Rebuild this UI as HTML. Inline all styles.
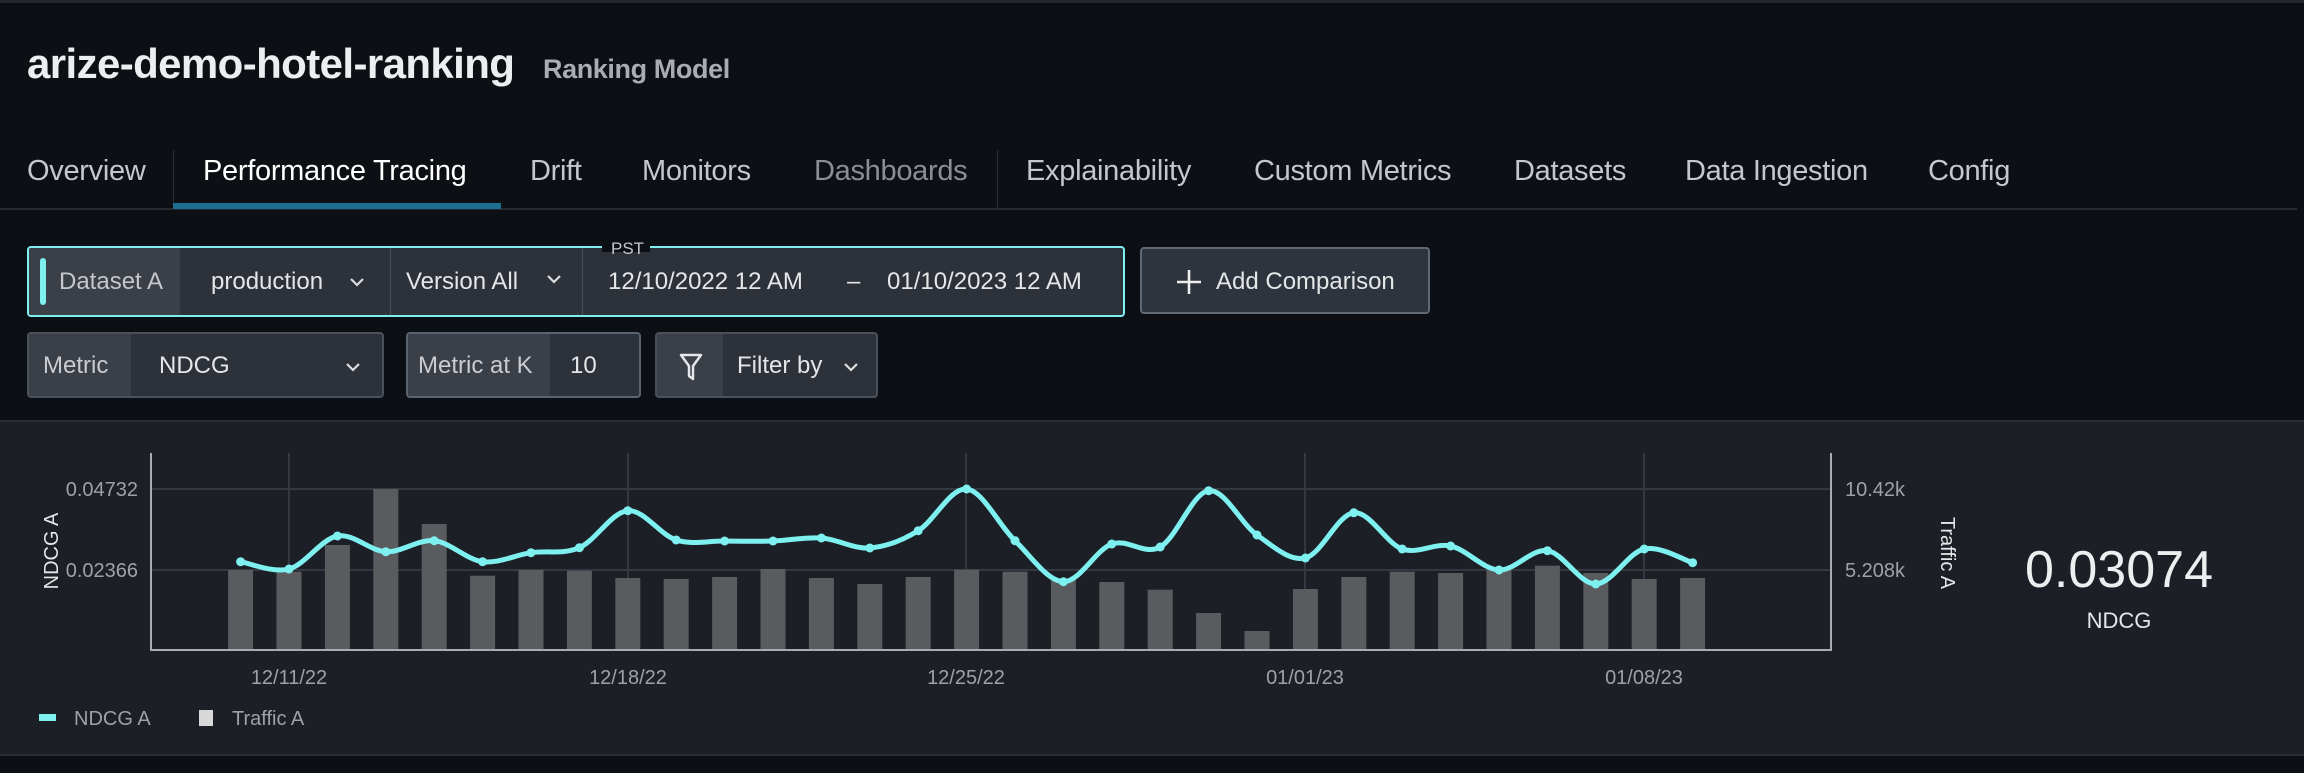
<!DOCTYPE html>
<html><head><meta charset="utf-8"><style>
*{margin:0;padding:0;box-sizing:border-box}
body{width:2304px;height:773px;background:#0c0f13;font-family:"Liberation Sans",sans-serif;position:relative;overflow:hidden;color:#d8dadd}
.a{position:absolute;white-space:nowrap}
.tab{position:absolute;top:155px;font-size:29px;color:#c4c7cc;letter-spacing:-0.3px}
.box{position:absolute;border-radius:4px}
.t24{font-size:24px}
.chev{position:absolute;width:16px;height:10px}
</style></head><body>
<div class="a" style="left:0;top:0;width:2304px;height:3px;background:#23272d"></div>
<div class="a" style="left:27px;top:40px;font-size:42px;font-weight:bold;color:#eceef0;letter-spacing:-0.6px">arize-demo-hotel-ranking</div>
<div class="a" style="left:543px;top:54px;font-size:27px;font-weight:bold;color:#a9adb3;letter-spacing:-0.4px">Ranking Model</div>

<div class="tab" style="left:27px">Overview</div>
<div class="a" style="left:173px;top:150px;width:1px;height:59px;background:#2a2f36"></div>
<div class="tab" style="left:203px;color:#fff">Performance Tracing</div>
<div class="tab" style="left:530px">Drift</div>
<div class="tab" style="left:642px">Monitors</div>
<div class="tab" style="left:814px;color:#8b8f95">Dashboards</div>
<div class="a" style="left:997px;top:150px;width:1px;height:59px;background:#2a2f36"></div>
<div class="tab" style="left:1026px">Explainability</div>
<div class="tab" style="left:1254px">Custom Metrics</div>
<div class="tab" style="left:1514px">Datasets</div>
<div class="tab" style="left:1685px">Data Ingestion</div>
<div class="tab" style="left:1928px">Config</div>
<div class="a" style="left:0;top:208px;width:2297px;height:2px;background:#262a30"></div>
<div class="a" style="left:173px;top:203px;width:328px;height:6px;background:#1e6e92"></div>

<!-- row 1 -->
<div class="box" style="left:27px;top:246px;width:1098px;height:71px;border:2px solid #7ff0f0;background:#2c313a;overflow:hidden">
  <div class="a" style="left:0;top:0;width:151px;height:67px;background:#3a3f48"></div>
  <div class="a" style="left:11px;top:10px;width:6px;height:47px;border-radius:3px;background:#7ff0f0"></div>
  <div class="a t24" style="left:30px;top:20px;color:#c4c7cb">Dataset A</div>
  <div class="a t24" style="left:182px;top:20px;color:#e4e6e8">production</div>
  <svg class="chev" style="left:320px;top:29px"><path d="M2 2 L8 8 L14 2" fill="none" stroke="#ddd" stroke-width="2.2"/></svg>
  <div class="a" style="left:361px;top:0;width:1px;height:67px;background:#4a4f57"></div>
  <div class="a t24" style="left:377px;top:20px;color:#e4e6e8">Version All</div>
  <svg class="chev" style="left:517px;top:26px"><path d="M2 2 L8 8 L14 2" fill="none" stroke="#ddd" stroke-width="2.2"/></svg>
  <div class="a" style="left:553px;top:0;width:1px;height:67px;background:#4a4f57"></div>
  <div class="a t24" style="left:579px;top:20px;color:#e4e6e8">12/10/2022 12 AM</div>
  <div class="a t24" style="left:818px;top:20px;color:#e4e6e8">–</div>
  <div class="a t24" style="left:858px;top:20px;color:#e4e6e8">01/10/2023 12 AM</div>
</div>
<div class="a" style="left:602px;top:240px;width:48px;height:12px;background:#0c0f13"></div>
<div class="a" style="left:611px;top:239px;font-size:17px;color:#c4c7cc">PST</div>
<div class="box" style="left:1140px;top:247px;width:290px;height:67px;border:2px solid #5f6874;background:#2e343d">
  <svg class="a" style="left:34px;top:20px" width="26" height="26"><path d="M13 1 V25 M1 13 H25" stroke="#eee" stroke-width="2.6"/></svg>
  <div class="a t24" style="left:74px;top:19px;color:#e4e6e8">Add Comparison</div>
</div>

<!-- row 2 -->
<div class="box" style="left:27px;top:332px;width:357px;height:66px;border:2px solid #4a515b;background:#2c313a;overflow:hidden">
  <div class="a" style="left:0;top:0;width:102px;height:64px;background:#3a3f48"></div>
  <div class="a t24" style="left:14px;top:18px;color:#c9ccd0">Metric</div>
  <div class="a t24" style="left:130px;top:18px;color:#e4e6e8">NDCG</div>
  <svg class="chev" style="left:316px;top:28px"><path d="M2 2 L8 8 L14 2" fill="none" stroke="#ddd" stroke-width="2.2"/></svg>
</div>
<div class="box" style="left:406px;top:332px;width:235px;height:66px;border:2px solid #5a6370;background:#2c313a;overflow:hidden">
  <div class="a" style="left:0;top:0;width:142px;height:64px;background:#3a3f48"></div>
  <div class="a t24" style="left:10px;top:18px;color:#c9ccd0">Metric at K</div>
  <div class="a t24" style="left:162px;top:18px;color:#e4e6e8">10</div>
</div>
<div class="box" style="left:655px;top:332px;width:223px;height:66px;border:2px solid #4a515b;background:#2c313a;overflow:hidden">
  <div class="a" style="left:0;top:0;width:66px;height:64px;background:#3a3f48"></div>
  <svg class="a" style="left:22px;top:18px" width="24" height="30"><path d="M2 3 H22 L14 14 V27 L10 24 V14 Z" fill="none" stroke="#e4e6e8" stroke-width="2.5" stroke-linejoin="round"/></svg>
  <div class="a t24" style="left:80px;top:18px;color:#e4e6e8">Filter by</div>
  <svg class="chev" style="left:186px;top:28px"><path d="M2 2 L8 8 L14 2" fill="none" stroke="#ddd" stroke-width="2.2"/></svg>
</div>

<!-- chart panel -->
<div class="a" style="left:0;top:420px;width:2304px;height:2px;background:#2a2f36"></div>
<div class="a" style="left:0;top:422px;width:2304px;height:332px;background:#1c1f26"></div>
<div class="a" style="left:0;top:754px;width:2304px;height:2px;background:#2a2f36"></div>

<svg class="a" style="left:0;top:0" width="2304" height="773" id="ch">
<g stroke="#343840" stroke-width="2">
<line x1="151" y1="489" x2="1831" y2="489"/><line x1="151" y1="570" x2="1831" y2="570"/>
<line x1="289" y1="453" x2="289" y2="650"/><line x1="628" y1="453" x2="628" y2="650"/><line x1="966" y1="453" x2="966" y2="650"/><line x1="1305" y1="453" x2="1305" y2="650"/><line x1="1644" y1="453" x2="1644" y2="650"/>
</g>
<g id="bars" fill="#5a5b5e"></g>
<line x1="151" y1="453" x2="151" y2="651" stroke="#a9adb2" stroke-width="2"/>
<line x1="1831" y1="453" x2="1831" y2="651" stroke="#a9adb2" stroke-width="2"/>
<line x1="150" y1="650" x2="1832" y2="650" stroke="#a9adb2" stroke-width="2"/>
<path id="ln" fill="none" stroke="#7ff0f0" stroke-width="5"/>
<g id="dots" fill="#7ff0f0"></g>
<g font-family="Liberation Sans" font-size="20" fill="#9ea2a8">
<text x="138" y="496" text-anchor="end">0.04732</text>
<text x="138" y="577" text-anchor="end">0.02366</text>
<text x="1845" y="496">10.42k</text>
<text x="1845" y="577">5.208k</text>
<text x="289" y="684" text-anchor="middle">12/11/22</text>
<text x="628" y="684" text-anchor="middle">12/18/22</text>
<text x="966" y="684" text-anchor="middle">12/25/22</text>
<text x="1305" y="684" text-anchor="middle">01/01/23</text>
<text x="1644" y="684" text-anchor="middle">01/08/23</text>
<text x="74" y="725">NDCG A</text>
<text x="232" y="725">Traffic A</text>
</g>
<text transform="translate(58,551) rotate(-90)" text-anchor="middle" font-family="Liberation Sans" font-size="20" fill="#e4e6e8">NDCG A</text>
<text transform="translate(1941,553) rotate(90)" text-anchor="middle" font-family="Liberation Sans" font-size="20" fill="#e4e6e8">Traffic A</text>
<rect x="39" y="714" width="17" height="7" fill="#7ff0f0"/>
<rect x="199" y="710" width="14" height="16" fill="#d8d8d8"/>
<text x="2119" y="587" text-anchor="middle" font-family="Liberation Sans" font-size="52" fill="#eceef0">0.03074</text>
<text x="2119" y="628" text-anchor="middle" font-family="Liberation Sans" font-size="22" fill="#e4e6e8">NDCG</text>
</svg>
<script>
var bt=[570,571.7,545,489,524,575.7,570,570.7,578,579,577,569,578,584,577,569.7,571.7,579,582,589.7,613,631,589,577,571.7,573,569,565.7,573,579,578];
var ly=[561.7,569,536,551.7,540.7,561.7,552.7,547.7,510.7,540,541,541,538,548,530.7,489,540.7,581.7,544,547,490.7,535,558,512.7,549,546,570,550.7,584,549,562.7];
var ns="http://www.w3.org/2000/svg",b=document.getElementById("bars"),d=document.getElementById("dots");
var P=[];
for(var i=0;i<31;i++){var cx=240.6+48.4*i;
var r=document.createElementNS(ns,"rect");r.setAttribute("x",cx-12.5);r.setAttribute("y",bt[i]);r.setAttribute("width",25);r.setAttribute("height",650-bt[i]);b.appendChild(r);
var c=document.createElementNS(ns,"circle");c.setAttribute("cx",cx);c.setAttribute("cy",ly[i]);c.setAttribute("r",4.5);d.appendChild(c);
P.push([cx,ly[i]]);}
var s="M"+P[0][0]+" "+P[0][1];
for(var i=0;i<30;i++){var p0=P[Math.max(i-1,0)],p1=P[i],p2=P[i+1],p3=P[Math.min(i+2,30)];
s+=" C"+(p1[0]+(p2[0]-p0[0])/6)+" "+(p1[1]+(p2[1]-p0[1])/6)+" "+(p2[0]-(p3[0]-p1[0])/6)+" "+(p2[1]-(p3[1]-p1[1])/6)+" "+p2[0]+" "+p2[1];}
document.getElementById("ln").setAttribute("d",s);
</script>
</body></html>
